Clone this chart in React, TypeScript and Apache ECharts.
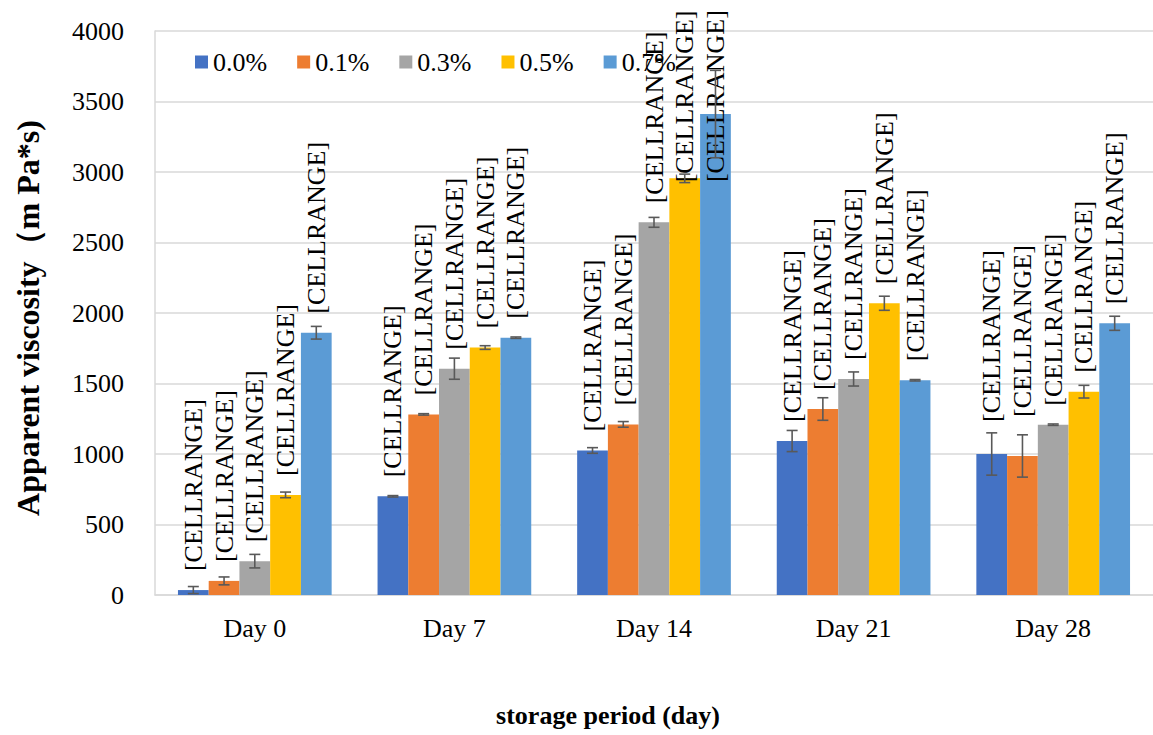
import React, { useEffect, useRef } from "react";
import * as echarts from "echarts";

const categories = ["Day 0", "Day 7", "Day 14", "Day 21", "Day 28"];
const seriesNames = ["0.0%", "0.1%", "0.3%", "0.5%", "0.7%"];
const v00 = [35, 700, 1025, 1092, 1000];
const v01 = [100, 1281, 1210, 1319, 986];
const v03 = [240, 1605, 2643, 1532, 1208];
const v05 = [710, 1755, 2955, 2069, 1442];
const v07 = [1860, 1825, 3411, 1523, 1927];
const e00 = [25, 5, 20, 75, 150];
const e01 = [28, 5, 20, 80, 150];
const e03 = [48, 75, 35, 50, 5];
const e05 = [20, 13, 30, 50, 45];
const e07 = [45, 5, 310, 5, 50];
const labelText = "[CELLRANGE]";
const yTitle = "Apparent viscosity（m Pa*s)";
const xTitle = "storage period (day)";

const values = [v00, v01, v03, v05, v07];
const errors = [e00, e01, e03, e05, e07];
const colors = ["#4472C4", "#ED7D31", "#A5A5A5", "#FFC000", "#5B9BD5"];
const FONT = "Liberation Serif";
const CAT_GAP = 0.23;

// label distance overrides keyed "category-series"
const labelDist: Record<string, number> = {
  "2-3": -4,
  "2-4": -68,
  "4-0": 32,
  "4-1": 39,
};

export default function App() {
  const ref = useRef<HTMLDivElement>(null);
  useEffect(() => {
    if (!ref.current) return;
    const chart = echarts.init(ref.current, undefined, { renderer: "svg" });
    const barSeries = values.map((vals, si) => ({
      name: seriesNames[si],
      type: "bar",
      barGap: "0%",
      barCategoryGap: "23%",
      itemStyle: { color: colors[si] },
      data: vals.map((v, ci) => {
        const d = labelDist[`${ci}-${si}`];
        return d !== undefined ? { value: v, label: { distance: d } } : v;
      }),
      label: {
        show: true,
        formatter: labelText,
        position: "top",
        distance: 19,
        rotate: 90,
        align: "left",
        verticalAlign: "middle",
        fontSize: 26,
        fontFamily: FONT,
        color: "#000",
      },
      z: 2,
    }));
    const errSeries = values.map((vals, si) => ({
      name: "err" + si,
      type: "custom",
      z: 3,
      data: vals.map((v, ci) => [ci, v, errors[si][ci]]),
      encode: { x: 0, y: 1 },
      renderItem: (params: any, api: any) => {
        const ci = api.value(0);
        const v = api.value(1);
        const e = api.value(2);
        const band = api.size([1, 0])[0];
        const bw = (band * (1 - CAT_GAP)) / 5;
        const cx = api.coord([ci, v])[0] + (si - 2) * bw;
        const yT = api.coord([ci, v + e])[1];
        const yB = api.coord([ci, v - e])[1];
        const half = 5.5;
        const st = { stroke: "#595959", lineWidth: 1.6 };
        return {
          type: "group",
          children: [
            { type: "line", shape: { x1: cx, y1: yT, x2: cx, y2: yB }, style: st },
            { type: "line", shape: { x1: cx - half, y1: yT, x2: cx + half, y2: yT }, style: st },
            { type: "line", shape: { x1: cx - half, y1: yB, x2: cx + half, y2: yB }, style: st },
          ],
        };
      },
    }));
    chart.setOption({
      animation: false,
      backgroundColor: "#fff",
      textStyle: { fontFamily: FONT },
      grid: { left: 155, top: 31, width: 1004, height: 564, containLabel: false },
      legend: {
        data: seriesNames,
        left: 195,
        top: 49,
        padding: 0,
        itemGap: 30,
        itemWidth: 13,
        itemHeight: 13,
        icon: "rect",
        textStyle: { fontSize: 26, color: "#000", fontFamily: FONT },
      },
      xAxis: {
        type: "category",
        data: categories,
        axisTick: { show: false },
        axisLine: { lineStyle: { color: "#d9d9d9", width: 1.5 } },
        axisLabel: { fontSize: 26, color: "#000", margin: 20, fontFamily: FONT },
      },
      yAxis: {
        type: "value",
        min: 0,
        max: 4000,
        interval: 500,
        axisLine: { show: true, lineStyle: { color: "#d9d9d9", width: 1.5 } },
        axisTick: { show: false },
        splitLine: { lineStyle: { color: "#d9d9d9", width: 1.5 } },
        axisLabel: {
          fontSize: 26,
          color: "#000",
          margin: 31,
          fontFamily: FONT,
          formatter: (v: number) => String(v),
        },
      },
      graphic: [
        {
          type: "text",
          x: 28,
          y: 318,
          rotation: Math.PI / 2,
          style: {
            text: yTitle,
            font: `bold 32px ${FONT}`,
            fill: "#000",
            align: "center",
            verticalAlign: "middle",
          },
        },
        {
          type: "text",
          x: 608,
          y: 715,
          style: {
            text: xTitle,
            font: `bold 26px ${FONT}`,
            fill: "#000",
            align: "center",
            verticalAlign: "middle",
          },
        },
      ],
      series: [...barSeries, ...errSeries],
    });
    return () => chart.dispose();
  }, []);
  return (
    <div
      ref={ref}
      style={{ position: "fixed", left: 0, top: 0, width: 1153, height: 735 }}
    />
  );
}
